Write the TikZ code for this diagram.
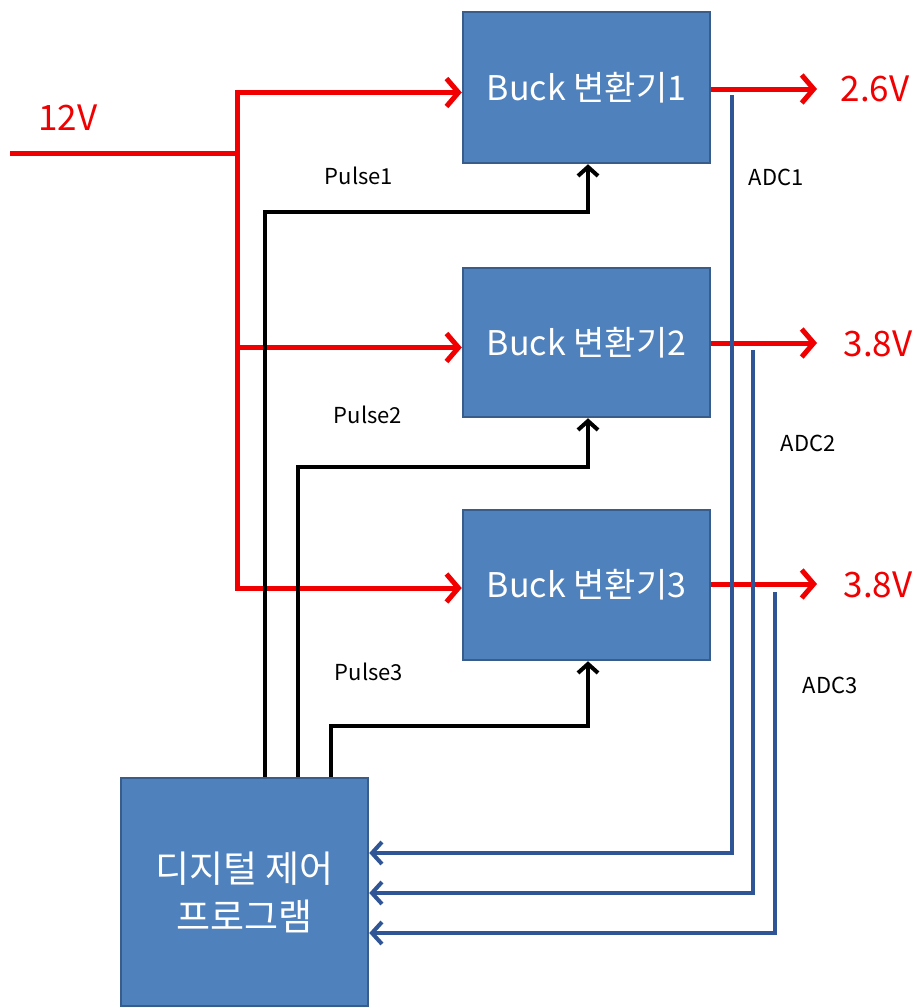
\documentclass[tikz,border=0pt]{standalone}
\usepackage{fontspec}
\setmainfont{Noto Sans CJK KR}
\usetikzlibrary{arrows.meta}
\definecolor{boxfill}{HTML}{4F81BD}
\definecolor{boxline}{HTML}{385D8A}
\definecolor{adcblue}{HTML}{2F5597}
\definecolor{vred}{HTML}{F00000}
\tikzset{
  block/.style={draw=boxline, line width=2.5pt, fill=boxfill, text=white, inner sep=0pt,
    font=\fontsize{34}{46}\selectfont, align=center},
  redline/.style={draw=vred, line width=5pt},
  redarrow/.style={redline, -{Straight Barb[length=12pt, width=28pt, line width=5pt]}},
  pulseline/.style={draw=black, line width=4pt, -{Straight Barb[length=9pt, width=20pt, line width=4pt]}},
  adcline/.style={draw=adcblue, line width=4pt, -{Straight Barb[length=10pt, width=22pt, line width=4pt]}},
  vlabel/.style={text=vred, font=\fontsize{35}{40}\selectfont},
  slabel/.style={text=black, font=\fontsize{22}{26}\selectfont},
}
\begin{document}
\begin{tikzpicture}[x=1pt, y=-1pt]
\useasboundingbox[fill=white] (0,0) rectangle (917,1007);

% blocks
\node[block, minimum width=247pt, minimum height=151pt] (b1) at (586.5,87.5) {Buck 변환기1};
\node[block, minimum width=247pt, minimum height=149pt] (b2) at (586.5,342.5) {Buck 변환기2};
\node[block, minimum width=247pt, minimum height=150pt] (b3) at (586.5,585) {Buck 변환기3};
\node[block, minimum width=247pt, minimum height=228pt, font=\fontsize{37}{48}\selectfont] (dig) at (244.5,892) {디지털 제어\\프로그램};

% 12V input
\coordinate (in) at (10,153);
\coordinate (j) at (237,153);
\node[vlabel] (v12) at (68,118) {12V};
\draw[redline] (in) -- (j);
\draw[redarrow] (j) |- ([yshift=-5pt]b1.west);
\draw[redarrow] (j) |- ([yshift=-5pt]b2.west);
\draw[redarrow] (j) |- ([yshift=-3pt]b3.west);

% outputs
\coordinate (o1) at (817,89);
\coordinate (o2) at (817,343);
\coordinate (o3) at (817,584);
\draw[redarrow] (b1.east |- o1) -- (o1);
\draw[redarrow] (b2.east |- o2) -- (o2);
\draw[redarrow] (b3.east |- o3) -- (o3);
\node[vlabel] (v1) at (875,89) {2.6V};
\node[vlabel] (v2) at (878,344) {3.8V};
\node[vlabel] (v3) at (878,585) {3.8V};

% pulses
\draw[pulseline] ([xshift=20.5pt]dig.north) -- ++(0,-565) -| ([xshift=1.5pt]b1.south);
\draw[pulseline] ([xshift=53.5pt]dig.north) -- ++(0,-310) -| ([xshift=1.5pt]b2.south);
\draw[pulseline] ([xshift=86.5pt]dig.north) -- ++(0,-51) -| ([xshift=1.5pt]b3.south);
\node[slabel] (p1) at (359,176) {Pulse1};
\node[slabel] (p2) at (368,415) {Pulse2};
\node[slabel] (p3) at (369,672) {Pulse3};

% ADC feedback
\coordinate (a1) at (732,95);
\coordinate (a2) at (753,350);
\coordinate (a3) at (775,592);
\draw[adcline] (a1) |- ([yshift=39pt]dig.east);
\draw[adcline] (a2) |- ([yshift=-1pt]dig.east);
\draw[adcline] (a3) |- ([yshift=-41pt]dig.east);
\node[slabel] (c1) at (776,177) {ADC1};
\node[slabel] (c2) at (808,443) {ADC2};
\node[slabel] (c3) at (830,685) {ADC3};
\end{tikzpicture}
\end{document}
